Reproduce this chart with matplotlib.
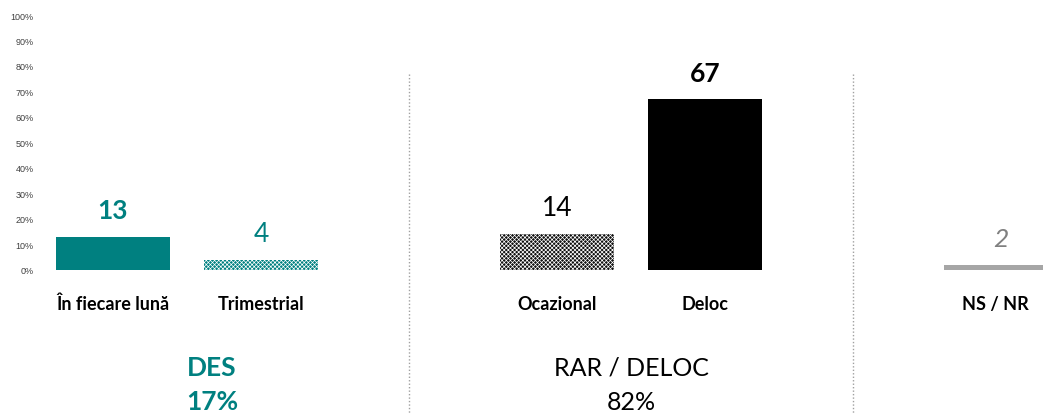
import matplotlib.pyplot as plt

plt.rcParams['font.family'] = ['Lato', 'DejaVu Sans']
plt.rcParams['hatch.linewidth'] = 0.5

categories = ['În fiecare lună', 'Trimestrial', 'Ocazional', 'Deloc', 'NS / NR']
values = [13, 4, 14, 67, 2]
slots = [0, 1, 3, 4, 6]  # empty slots 2 and 5 separate the groups
group_titles = ['DES', 'RAR / DELOC']
group_totals = ['17%', '82%']
yticks = list(range(0, 101, 10))

teal = '#008080'
face = [teal, teal, '#111111', 'black', '#a6a6a6']
hatches = [None, 'xxxxxxxx', 'xxxxxxxx', None, None]
label_color = [teal, teal, 'black', 'black', '#808080']
label_weight = ['bold', 'normal', 'normal', 'bold', 'normal']
label_style = ['normal', 'normal', 'normal', 'normal', 'italic']

fig = plt.figure(figsize=(10.43, 4.14), dpi=100)
ax = fig.add_axes([39 / 1043, 143 / 414, 1 - 39 / 1043, 255 / 414])

for i in range(len(values)):
    if hatches[i]:
        ax.bar(slots[i], values[i], width=0.77, color=face[i], edgecolor='white',
               hatch=hatches[i], linewidth=0)
    else:
        ax.bar(slots[i], values[i], width=0.77, color=face[i], linewidth=0)
    ax.annotate(str(values[i]), (slots[i], values[i]), xytext=(0, 19), textcoords='offset points',
                ha='center', va='center', fontsize=19, color=label_color[i],
                fontweight=label_weight[i], fontstyle=label_style[i])
    ax.text(slots[i] - (0.04 if i == 4 else 0), -13, categories[i], ha='center', va='center',
            fontsize=13, fontweight='bold', color='black')

# dotted separators between groups
for x in [2, 5]:
    ax.plot([x, x], [77, -57], linestyle=(0, (1, 1.5)), color='#a0a0a0', lw=1, clip_on=False)

ax.text(0.67, -38, group_titles[0], ha='center', va='center', fontsize=19, fontweight='bold', color=teal)
ax.text(0.67, -51.5, group_totals[0], ha='center', va='center', fontsize=19, fontweight='bold', color=teal)
ax.text(3.5, -38, group_titles[1], ha='center', va='center', fontsize=18, color='black')
ax.text(3.5, -51.5, group_totals[1], ha='center', va='center', fontsize=18, color='black')

ax.set_ylim(0, 100)
ax.set_xlim(-0.5, -0.5 + (1043 - 39) / 148)
ax.set_yticks(yticks)
ax.set_yticklabels([f'{t}%' for t in yticks], fontsize=6.5, color='#404040', family='Liberation Sans')
ax.tick_params(axis='y', length=0, pad=4)
ax.set_xticks([])
for s in ax.spines.values():
    s.set_visible(False)

fig.savefig('out.png', dpi=100)
